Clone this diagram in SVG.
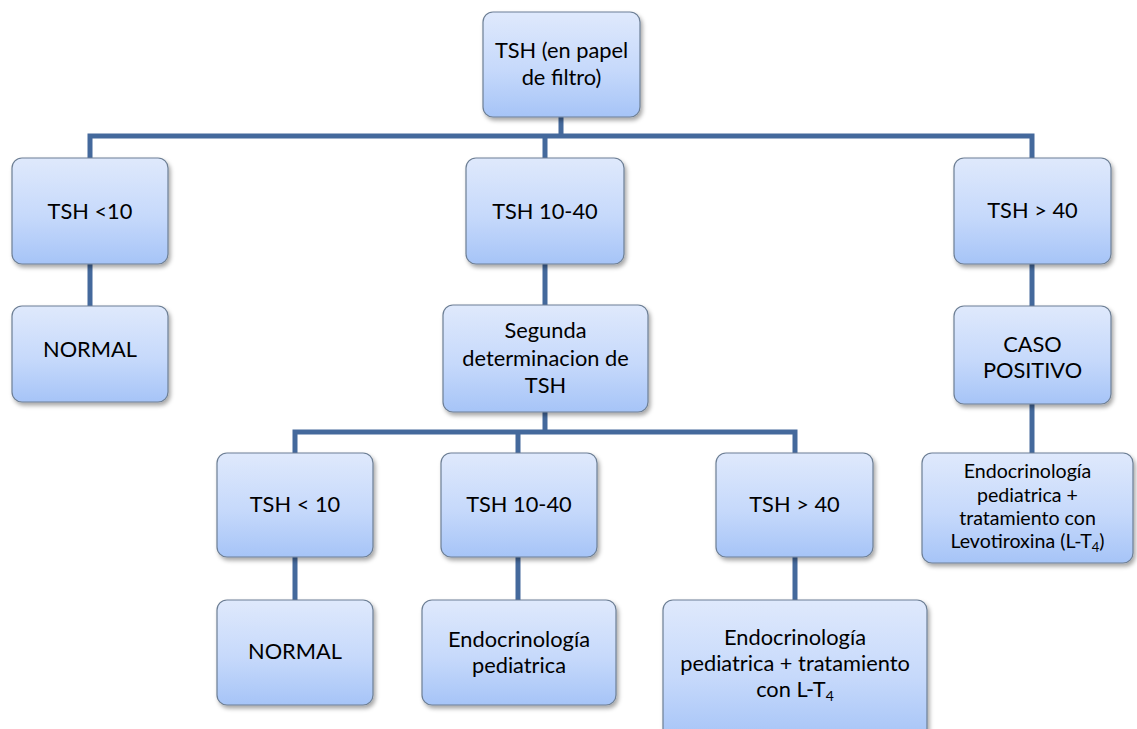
<svg xmlns="http://www.w3.org/2000/svg" width="1137" height="729" viewBox="0 0 1137 729">
<defs>
<linearGradient id="g" x1="0" y1="0" x2="0" y2="1">
<stop offset="0" stop-color="#dfe9fc"/>
<stop offset="0.55" stop-color="#c6d9fb"/>
<stop offset="1" stop-color="#a6c4f7"/>
</linearGradient>
<filter id="sh" x="-10%" y="-10%" width="125%" height="130%">
<feDropShadow dx="2" dy="3" stdDeviation="2.2" flood-color="#000" flood-opacity="0.35"/>
</filter>
</defs>
<style>
.n rect{fill:url(#g);stroke:#6d7f95;stroke-width:1.2;filter:url(#sh)}
.n text{font-family:Lato,"Open Sans","Liberation Sans",sans-serif;font-size:21.8px;fill:#000;text-anchor:middle}
.n text.s{font-size:19.6px}
.c{stroke:#44699c;stroke-width:5;fill:none;stroke-linecap:butt}
</style>
<rect width="1137" height="729" fill="#fff"/>
<g id="connectors">
<path class="c" d="M561 117V136M87.5 136H1034.5M90 136V158M545 136V158M1032 136V158"/>
<path class="c" d="M90 264V306M545 264V305M1032 264V306M1032 404V453"/>
<path class="c" d="M545 412V432M292.5 432H797.5M295 432V453M518 432V453M795 432V453"/>
<path class="c" d="M295 557V600M518 557V600M795 557V600"/>
</g>
<g id="n-root" class="n"><rect x="483" y="12" width="157" height="105" rx="10"/><text x="561.5" y="58">TSH (en papel</text><text x="561.5" y="85">de filtro)</text></g>
<g id="n-lt10" class="n"><rect x="12" y="158" width="156" height="106" rx="10"/><text x="90" y="219">TSH &lt;10</text></g>
<g id="n-normal1" class="n"><rect x="12" y="306" width="156" height="96" rx="10"/><text x="90" y="357">NORMAL</text></g>
<g id="n-1040" class="n"><rect x="466" y="158" width="158" height="106" rx="10"/><text x="545" y="219">TSH 10-40</text></g>
<g id="n-segunda" class="n"><rect x="443" y="305" width="205" height="107" rx="10"/><text x="545.5" y="338">Segunda</text><text x="545.5" y="366">determinacion de</text><text x="545.5" y="393">TSH</text></g>
<g id="n-gt40" class="n"><rect x="954" y="158" width="157" height="106" rx="10"/><text x="1032.5" y="218">TSH &gt; 40</text></g>
<g id="n-caso" class="n"><rect x="954" y="306" width="157" height="98" rx="10"/><text x="1032.5" y="352">CASO</text><text x="1032.5" y="378">POSITIVO</text></g>
<g id="n-endo-levo" class="n"><rect x="922" y="453" width="211" height="110" rx="10"/><text class="s" x="1027.5" y="478">Endocrinología</text><text class="s" x="1027.5" y="502">pediatrica +</text><text class="s" x="1027.5" y="525">tratamiento con</text><text class="s" x="1027.5" y="548">Levotiroxina (L-T<tspan font-size="13" dy="4">4</tspan><tspan dy="-4">)</tspan></text></g>
<g id="n-lt10b" class="n"><rect x="217" y="453" width="156" height="104" rx="10"/><text x="295" y="512">TSH &lt; 10</text></g>
<g id="n-1040b" class="n"><rect x="441" y="453" width="156" height="104" rx="10"/><text x="519" y="512">TSH 10-40</text></g>
<g id="n-gt40b" class="n"><rect x="716" y="453" width="157" height="104" rx="10"/><text x="794.5" y="512">TSH &gt; 40</text></g>
<g id="n-normal2" class="n"><rect x="217" y="600" width="156" height="105" rx="10"/><text x="295" y="659">NORMAL</text></g>
<g id="n-endo" class="n"><rect x="422" y="600" width="194" height="105" rx="10"/><text x="519" y="647">Endocrinología</text><text x="519" y="673">pediatrica</text></g>
<g id="n-endo-trat" class="n"><rect x="663" y="600" width="264" height="140" rx="10"/><text x="795" y="645">Endocrinología</text><text x="795" y="671">pediatrica + tratamiento</text><text x="795" y="697">con L-T<tspan font-size="14" dy="4">4</tspan></text></g>
</svg>
